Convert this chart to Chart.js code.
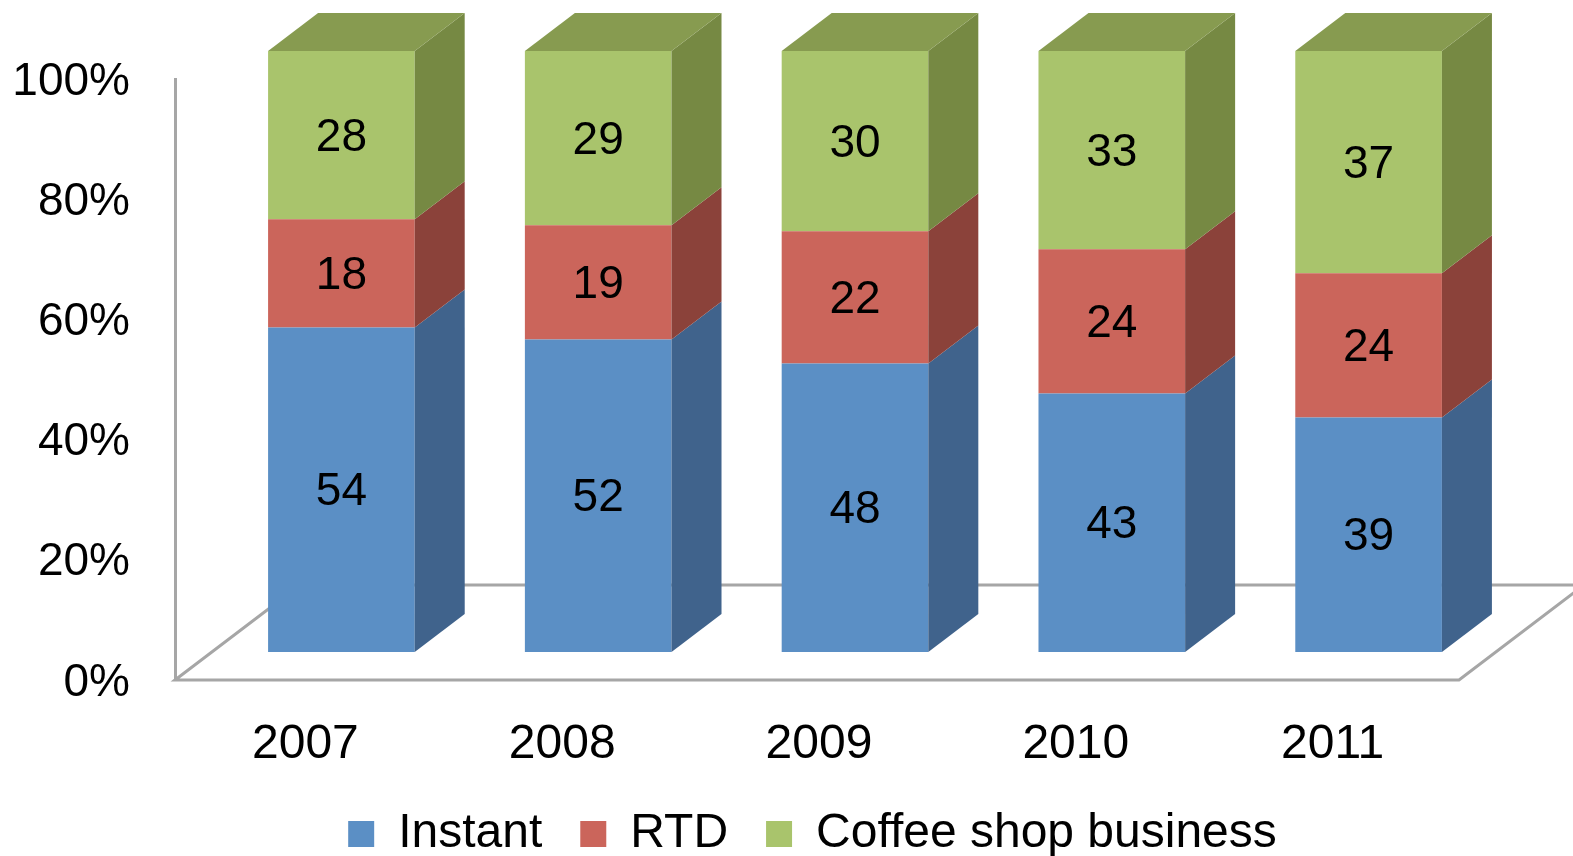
<!DOCTYPE html>
<html>
<head>
<meta charset="utf-8">
<title>Coffee market share</title>
<script src="https://cdn.jsdelivr.net/npm/chart.js@4.4.1/dist/chart.umd.min.js"></script>
<style>
    html, body { margin: 0; padding: 0; background: #fff; }
    canvas { display: block; }
</style>
</head>
<body>
<canvas id="coffeeChart" width="1573" height="856"></canvas>
<script>
// Share of each segment per year (%)
const years = ['2007', '2008', '2009', '2010', '2011'];
const instant = [54, 52, 48, 43, 39];
const rtd = [18, 19, 22, 24, 24];
const coffeeShop = [28, 29, 30, 33, 37];
const seriesNames = ['Instant', 'RTD', 'Coffee shop business'];

// Face colours: front, side, and the top of the stack
const frontColors = ['#5B8FC5', '#CB655B', '#A9C46C'];
const sideColors = ['#40638C', '#8B423A', '#768943'];
const topColor = '#879B50';

// 3D look (pixels)
const barDepth = { x: 50, y: 38 };
const barShift = { x: 38, y: 28 };
const floorDepth = { x: 125, y: 95 };

const fontFamily = '"Liberation Sans", Arial, sans-serif';

// Draws the floor, then pushes the bars back and adds their side and top faces
const box3d = {
    id: 'box3d',
    beforeDatasetsDraw(chart) {
        const ctx = chart.ctx;
        const area = chart.chartArea;
        const y0 = chart.scales.y.getPixelForValue(0);
        ctx.save();
        ctx.strokeStyle = '#A6A6A6';
        ctx.lineWidth = 3;
        ctx.beginPath();
        ctx.moveTo(area.left, y0);
        ctx.lineTo(area.left + floorDepth.x, y0 - floorDepth.y);
        ctx.lineTo(area.right + floorDepth.x, y0 - floorDepth.y);
        ctx.lineTo(area.right, y0);
        ctx.closePath();
        ctx.stroke();
        ctx.restore();

        ctx.save();
        ctx.translate(barShift.x, -barShift.y);
    },
    afterDatasetsDraw(chart) {
        const ctx = chart.ctx;
        const last = chart.data.datasets.length - 1;
        chart.data.datasets.forEach((ds, i) => {
            chart.getDatasetMeta(i).data.forEach((bar, j) => {
                const p = bar.getProps(['x', 'y', 'base', 'width'], true);
                const l = p.x - p.width / 2;
                const r = p.x + p.width / 2;

                // side face
                ctx.fillStyle = sideColors[i];
                ctx.beginPath();
                ctx.moveTo(r, p.y);
                ctx.lineTo(r + barDepth.x, p.y - barDepth.y);
                ctx.lineTo(r + barDepth.x, p.base - barDepth.y);
                ctx.lineTo(r, p.base);
                ctx.closePath();
                ctx.fill();

                // top face on the last segment
                if (i === last) {
                    ctx.fillStyle = topColor;
                    ctx.beginPath();
                    ctx.moveTo(l, p.y);
                    ctx.lineTo(l + barDepth.x, p.y - barDepth.y);
                    ctx.lineTo(r + barDepth.x, p.y - barDepth.y);
                    ctx.lineTo(r, p.y);
                    ctx.closePath();
                    ctx.fill();
                }

                // value label
                ctx.fillStyle = '#000';
                ctx.font = '46px ' + fontFamily;
                ctx.textAlign = 'center';
                ctx.textBaseline = 'middle';
                ctx.fillText(String(ds.data[j]), p.x, (p.y + p.base) / 2 + 3);
            });
        });
        ctx.restore();
    }
};

document.addEventListener('DOMContentLoaded', function () {
    Chart.defaults.font.family = fontFamily;
    Chart.defaults.color = '#000';

    const seriesData = [instant, rtd, coffeeShop];
    const datasets = seriesData.map((values, i) => ({
        label: seriesNames[i],
        data: values,
        backgroundColor: frontColors[i],
        borderWidth: 0,
        barPercentage: 0.571,
        categoryPercentage: 1,
        clip: false
    }));

    const config = {
        type: 'bar',
        data: { labels: years, datasets: datasets },
        options: {
            responsive: false,
            animation: false,
            // legend sits right of centre, so the layout box is pushed past the right edge
            layout: { padding: { top: 79, right: -42, left: 10, bottom: -12 } },
            scales: {
                x: {
                    stacked: true,
                    grid: { display: false, drawTicks: false },
                    border: { display: false },
                    ticks: { font: { size: 48 }, padding: 36, labelOffset: 2 },
                    afterFit(scale) { scale.height = 92; }
                },
                y: {
                    stacked: true,
                    min: 0,
                    max: 100,
                    grid: { display: false, drawTicks: false },
                    border: { display: true, color: '#A6A6A6', width: 3 },
                    ticks: {
                        stepSize: 20,
                        padding: 45,
                        labelOffset: 3,
                        font: { size: 46 },
                        callback: value => value + '%'
                    },
                    afterFit(scale) { scale.width = 165; }
                },
                // empty room on the right where the floor runs out
                spacer: {
                    type: 'linear',
                    position: 'right',
                    min: 0,
                    max: 100,
                    grid: { display: false, drawTicks: false },
                    border: { display: false },
                    ticks: { display: false },
                    afterFit(scale) { scale.width = 156; }
                }
            },
            plugins: {
                legend: {
                    position: 'bottom',
                    labels: {
                        boxWidth: 26,
                        boxHeight: 26,
                        padding: 38,
                        font: { size: 48 }
                    }
                },
                tooltip: { enabled: false }
            }
        },
        plugins: [box3d]
    };

    const coffeeChart = new Chart(document.getElementById('coffeeChart'), config);
});
</script>
</body>
</html>
